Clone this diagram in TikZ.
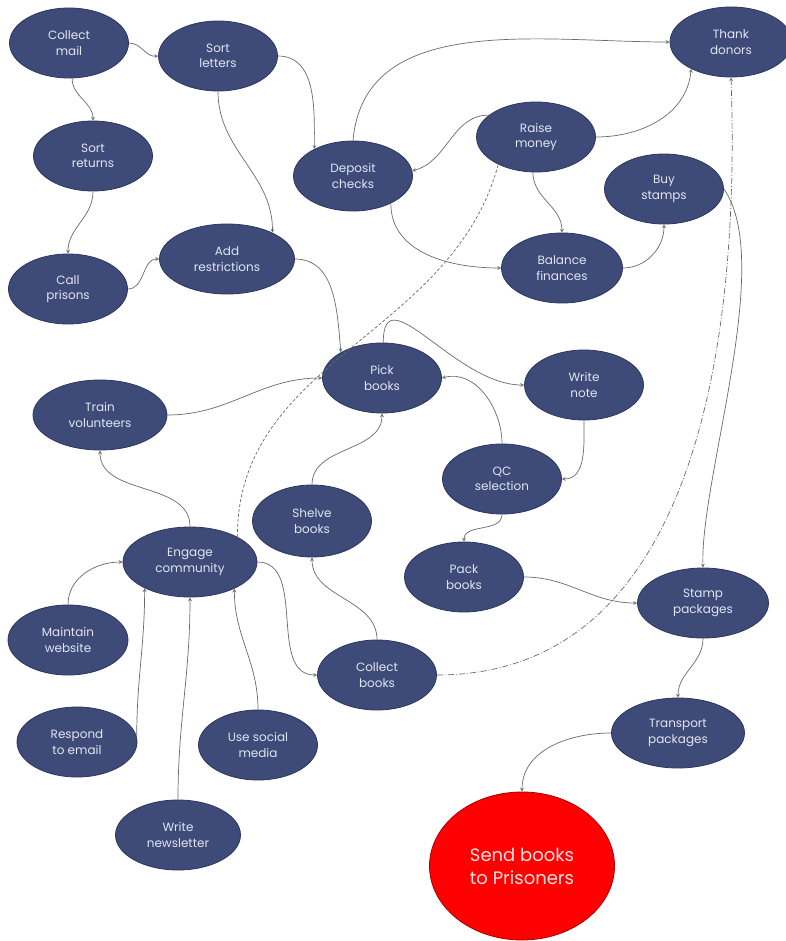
\documentclass[tikz,border=0pt]{standalone}
\usepackage{fontspec}
\setmainfont{Poppins}
\usetikzlibrary{positioning,arrows,shapes.geometric}
\definecolor{taskblue}{RGB}{62,74,120}
\definecolor{taskedge}{RGB}{44,54,94}
\definecolor{tasktext}{RGB}{226,230,240}
\definecolor{linkgray}{RGB}{105,105,112}

\begin{document}
\begin{tikzpicture}[x=1pt, y=-1pt,
tasknode/.style={ellipse, draw=taskedge, fill=taskblue, line width=0.8pt, minimum width=119pt, minimum height=70pt, inner sep=0pt, text=tasktext, align=center, font=\fontsize{12}{15.5}\selectfont},
goalnode/.style={ellipse, draw=red!65!black, fill=red, line width=0.8pt, minimum width=185pt, minimum height=148pt, inner sep=0pt, text=red!12, align=center, font=\fontsize{18}{23}\selectfont},
link/.style={->, >=stealth, draw=linkgray, line width=0.7pt}
]
    \useasboundingbox[fill=white] (0,0) rectangle (785,941);

    %Nodes
    \node[tasknode] (cmail)    at (69,43)   {Collect\\mail};
    \node[tasknode] (sletters) at (218,56)  {Sort\\letters};
    \node[tasknode] (sreturns) at (93,156)  {Sort\\returns};
    \node[tasknode] (cprisons) at (68,289)  {Call\\prisons};
    \node[tasknode, minimum width=135pt] (addr) at (227,259) {Add\\restrictions};
    \node[tasknode] (deposit)  at (353,176) {Deposit\\checks};
    \node[tasknode] (raise)    at (536,137) {Raise\\money};
    \node[tasknode, minimum width=122pt] (thank) at (731,42) {Thank\\donors};
    \node[tasknode] (buy)      at (664,189) {Buy\\stamps};
    \node[tasknode, minimum width=121pt] (balance) at (562,268) {Balance\\finances};
    \node[tasknode] (pick)     at (382,378) {Pick\\books};
    \node[tasknode] (write)    at (584,385) {Write\\note};
    \node[tasknode, minimum width=134pt] (train) at (100,415) {Train\\volunteers};
    \node[tasknode] (qc)       at (502,479) {QC\\selection};
    \node[tasknode, minimum height=72pt] (shelve) at (312,521) {Shelve\\books};
    \node[tasknode] (pack)     at (464,577) {Pack\\books};
    \node[tasknode, minimum width=134pt] (engage) at (190,562) {Engage\\community};
    \node[tasknode, minimum width=131pt] (stamp) at (703,603) {Stamp\\packages};
    \node[tasknode, minimum width=120pt] (maint) at (68,640) {Maintain\\website};
    \node[tasknode] (collect)  at (377,675) {Collect\\books};
    \node[tasknode, minimum width=120pt] (respond) at (77,742) {Respond\\to email};
    \node[tasknode] (social)   at (258,745) {Use social\\media};
    \node[tasknode, minimum width=133pt] (transport) at (678,733) {Transport\\packages};
    \node[tasknode, minimum width=125pt] (newsl) at (178,835) {Write\\newsletter};
    \node[goalnode] (send) at (522,866) {Send books\\to Prisoners};

    %Lines
    \draw[link] (cmail.east) to[out=0, in=185] (sletters.west);
    \draw[link] (cmail.-85) to[out=-90, in=90] (sreturns.north);
    \draw[link] (sreturns.south) to[out=-90, in=90] (cprisons.north);
    \draw[link] (cprisons.east) to[out=0, in=180] (addr.west);
    \draw[link] (sletters.south) to[out=-90, in=90] (addr.30);
    \draw[link] (sletters.east) to[out=0, in=90] (deposit.145);
    \draw[link] (deposit.north) to[out=85, in=180] (thank.west);
    \draw[link] (raise.155) to[out=180, in=15] (deposit.5);
    \draw[link] (raise.east) to[out=0, in=-95] (thank.214);
    \draw[link] (raise.-95) to[out=-90, in=90] (balance.north);
    \draw[link] (deposit.-36) to[out=-90, in=180] (balance.west);
    \draw[link] (balance.east) to[out=0, in=-90] (buy.south);
    \draw[link] (buy.east) to[out=-55, in=92, looseness=0.6] (stamp.north);
    \draw[link, dash pattern=on 6pt off 2pt on 1pt off 2pt] (collect.east) to[out=0, in=-88] (thank.south);
    \draw[draw=linkgray, line width=0.7pt, dash pattern=on 3pt off 2pt] (engage.28) to[out=90, in=-105] (raise.216);
    \draw[link] (addr.east) to[out=0, in=95] (pick.148);
    \draw[link] (train.east) to[out=0, in=180] (pick.west);
    \draw[link] (pick.88) to[out=90, in=180, looseness=1.2] (write.west);
    \draw[link] (qc.north) to[out=90, in=15] (pick.east);
    \draw[link] (write.south) to[out=-90, in=0] (qc.east);
    \draw[link] (qc.south) to[out=-90, in=90] (pack.north);
    \draw[link] (pack.east) to[out=0, in=180] (stamp.west);
    \draw[link] (stamp.south) to[out=-90, in=90] (transport.north);
    \draw[link] (transport.west) to[out=180, in=90] (send.north);
    \draw[link] (shelve.north) to[out=90, in=-90] (pick.south);
    \draw[link] (collect.north) to[out=90, in=-90] (shelve.south);
    \draw[link] (engage.east) to[out=0, in=180] (collect.west);
    \draw[link] (engage.north) to[out=90, in=-90] (train.south);
    \draw[link] (maint.north) to[out=90, in=180] (engage.west);
    \draw[link] (respond.5) to[out=90, in=-90] (engage.-150);
    \draw[link] (newsl.north) to[out=90, in=-90] (engage.south);
    \draw[link] (social.north) to[out=90, in=-90] (engage.-31);
\end{tikzpicture}
\end{document}
